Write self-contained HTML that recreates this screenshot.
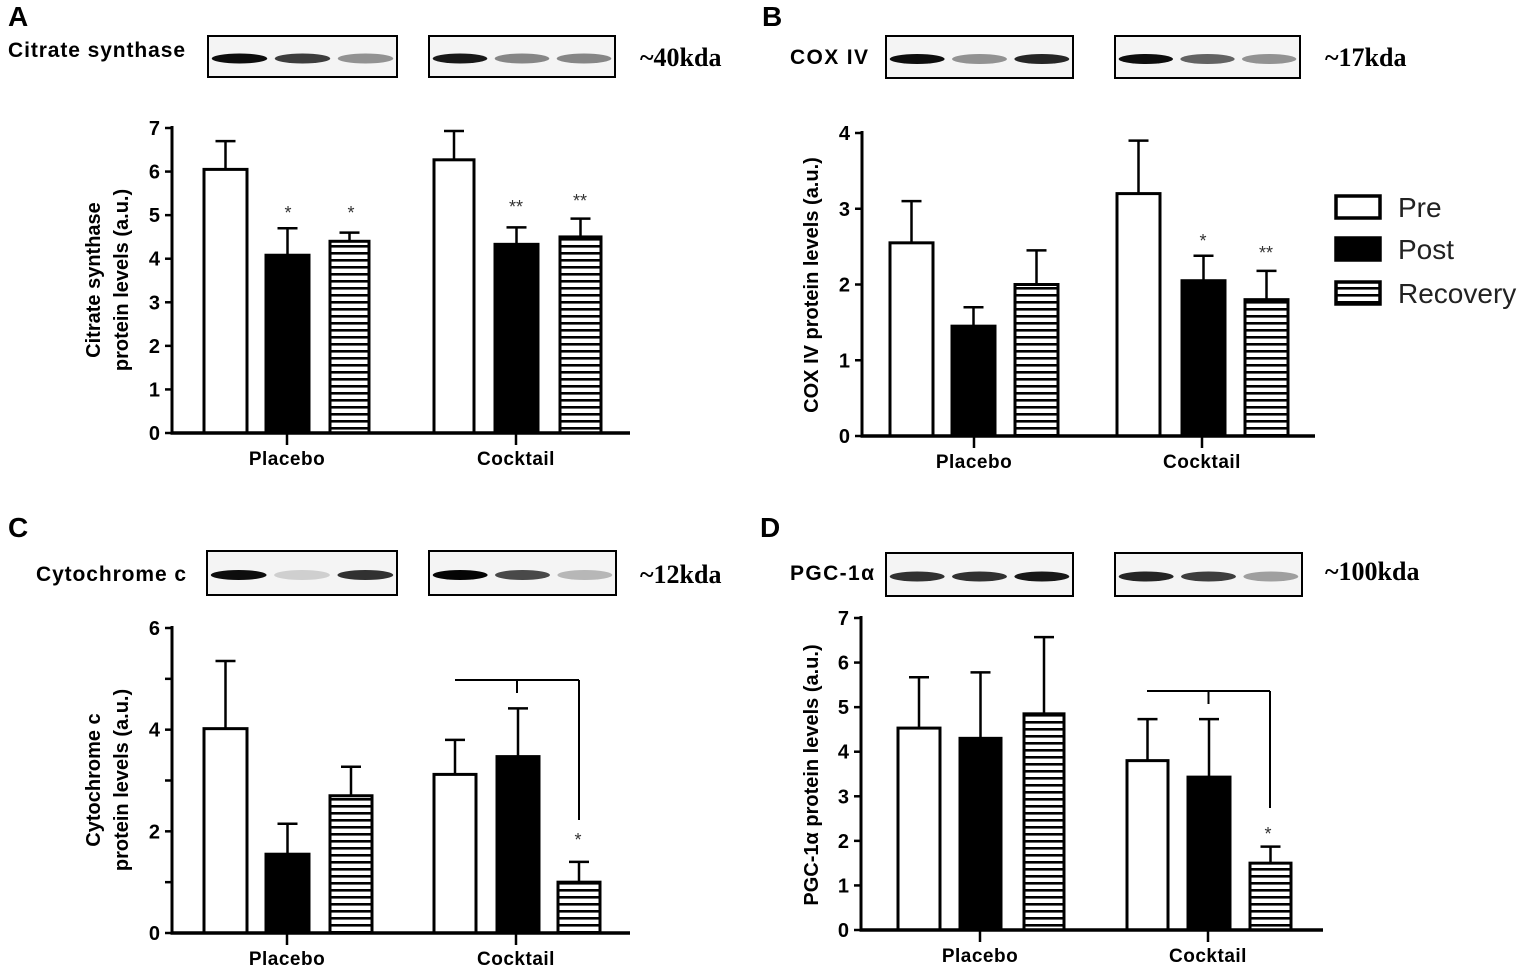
<!DOCTYPE html>
<html><head><meta charset="utf-8"><style>
body{margin:0;background:#fff;}
svg text{font-family:"Liberation Sans",Arial,sans-serif;}
svg text.sf{font-family:"Liberation Serif",serif;font-weight:bold;}
</style></head><body>
<svg id="s" width="1535" height="971" xmlns="http://www.w3.org/2000/svg">
<defs>
<pattern id="hs" width="8" height="7" patternUnits="userSpaceOnUse"><rect width="8" height="7" fill="#fff"/><rect y="0" width="8" height="2.6" fill="#000"/></pattern>
</defs>
</svg>
<script>
const s=document.getElementById('s');let h='';
function L(x1,y1,x2,y2,w){h+=`<line x1="${x1}" y1="${y1}" x2="${x2}" y2="${y2}" stroke="#000" stroke-width="${w||3}"/>`;}
function T(x,y,t,sz,extra){h+=`<text x="${x}" y="${y}" font-size="${sz}" ${extra||''}>${t}</text>`;}
function panel(p){
 const u=(p.y0-p.yt)/p.max, Y=v=>p.y0-v*u;
 p.bars.forEach((b,i)=>{
  const [x1,x2,v,e]=b, t=i%3, top=Y(v), mid=(x1+x2)/2;
  L(mid,Y(e),mid,top,2.5); L(mid-10,Y(e),mid+10,Y(e),2.5);
  const fill=t==0?'#fff':t==1?'#000':'url(#hs)';
  h+=`<rect x="${x1}" y="${top}" width="${x2-x1}" height="${p.y0-top}" fill="${fill}" stroke="#000" stroke-width="3"/>`;
 });
 L(p.ax,p.yt-2,p.ax,p.y0+1.5,3); L(p.ax-1.5,p.y0,p.xend,p.y0,3.5);
 for(let v=0;v<=p.max;v+=p.step){L(p.ax-7,Y(v),p.ax,Y(v),2.5);
  if(v%p.lab==0)T(p.ax-12,Y(v)+7,v,20,'text-anchor="end" font-weight="bold"');}
 p.gc.forEach((c,i)=>{L(c,p.y0,c,p.y0+12,2.5);T(c,p.y0+32,['Placebo','Cocktail'][i],19,'text-anchor="middle" font-weight="bold" letter-spacing="0.5"');});
 p.yl.forEach(a=>T(0,0,a[2],20,`text-anchor="middle" font-weight="bold" transform="translate(${a[0]},${a[1]}) rotate(-90)"`));
 (p.stars||[]).forEach(a=>T(a[0],a[1],a[2],18,'text-anchor="middle" fill="#333"'));
 if(p.br){const b=p.br;L(b[0],b[2],b[1],b[2],2);L((b[0]+b[1])/2,b[2],(b[0]+b[1])/2,b[2]+13,2);L(b[1],b[2],b[1],b[3],2);}
}
function blot(x1,x2,y1,y2,ints){
 h+=`<rect x="${x1}" y="${y1}" width="${x2-x1}" height="${y2-y1}" fill="#f4f4f4" stroke="#000" stroke-width="2"/>`;
 const w=(x2-x1)/3;
 ints.forEach((k,i)=>{h+=`<ellipse cx="${x1+w*i+w/2}" cy="${(y1+y2)/2+2}" rx="${w*0.44}" ry="5" fill="#000" opacity="${k}"/>`;});
}
T(8,26,'A',28,'font-weight="bold"');T(762,26,'B',28,'font-weight="bold"');
T(8,537,'C',28,'font-weight="bold"');T(760,537,'D',28,'font-weight="bold"');
const lb='font-weight="bold" textLength="X"';
T(8,57,'Citrate synthase',21,'font-weight="bold" textLength="177"');T(790,64,'COX IV',21,'font-weight="bold" textLength="78"');
T(36,581,'Cytochrome c',21,'font-weight="bold" textLength="150"');T(790,580,'PGC-1α',21,'font-weight="bold" textLength="84"');
T(640,66,'~40kda',26,'class="sf"');
T(1325,66,'~17kda',26,'class="sf"');
T(640,583,'~12kda',26,'class="sf"');
T(1325,580,'~100kda',26,'class="sf"');
blot(208,397,36,77,[0.95,0.75,0.4]);blot(429,615,36,77,[0.9,0.45,0.45]);
blot(886,1073,36,78,[0.95,0.4,0.85]);blot(1115,1300,36,78,[0.95,0.6,0.4]);
blot(207,397,551,595,[0.95,0.15,0.8]);blot(429,616,551,595,[0.98,0.7,0.25]);
blot(886,1073,553,596,[0.8,0.8,0.9]);blot(1115,1302,553,596,[0.85,0.75,0.35]);
panel({ax:172,y0:433,yt:128,max:7,step:1,lab:1,xend:630,gc:[287,516],
 bars:[[204,247,6.05,6.7],[266,309,4.08,4.7],[330,369,4.4,4.6],[434,474,6.27,6.93],[495,538,4.33,4.72],[560,601,4.5,4.92]],
 yl:[[100,280,'Citrate synthase'],[128,280,'protein levels (a.u.)']],
 stars:[[288,219,'*'],[351,219,'*'],[516,213,'**'],[580,207,'**']]});
panel({ax:862,y0:436,yt:133,max:4,step:1,lab:1,xend:1315,gc:[974,1202],
 bars:[[890,933,2.55,3.1],[952,995,1.45,1.7],[1015,1058,2.0,2.45],[1117,1160,3.2,3.9],[1182,1225,2.05,2.38],[1245,1288,1.8,2.18]],
 yl:[[818,285,'COX IV protein levels (a.u.)']],
 stars:[[1203,247,'*'],[1266,259,'**']]});
panel({ax:172,y0:933,yt:628,max:6,step:1,lab:2,xend:630,gc:[287,516],
 bars:[[204,247,4.02,5.35],[266,309,1.55,2.15],[330,372,2.7,3.27],[434,476,3.12,3.8],[497,539,3.47,4.42],[558,600,1.0,1.4]],
 yl:[[100,780,'Cytochrome c'],[128,780,'protein levels (a.u.)']],
 stars:[[578,846,'*']],br:[455,579,680,820]});
panel({ax:861,y0:930,yt:618,max:7,step:1,lab:1,xend:1323,gc:[980,1208],
 bars:[[898,940,4.53,5.67],[960,1001,4.3,5.78],[1024,1064,4.85,6.57],[1127,1168,3.8,4.73],[1188,1230,3.43,4.73],[1250,1291,1.5,1.87]],
 yl:[[818,775,'PGC-1α protein levels (a.u.)']],
 stars:[[1268,840,'*']],br:[1147,1270,691,808]});
[['#fff','Pre',196],['#000','Post',238],['url(#hs)','Recovery',282]].forEach(a=>{
 h+=`<rect x="1336" y="${a[2]}" width="44" height="22" fill="${a[0]}" stroke="#000" stroke-width="3.5"/>`;
 T(1398,a[2]+21,a[1],28,'fill="#222"');});
s.insertAdjacentHTML('beforeend',h);
</script>
</body></html>
